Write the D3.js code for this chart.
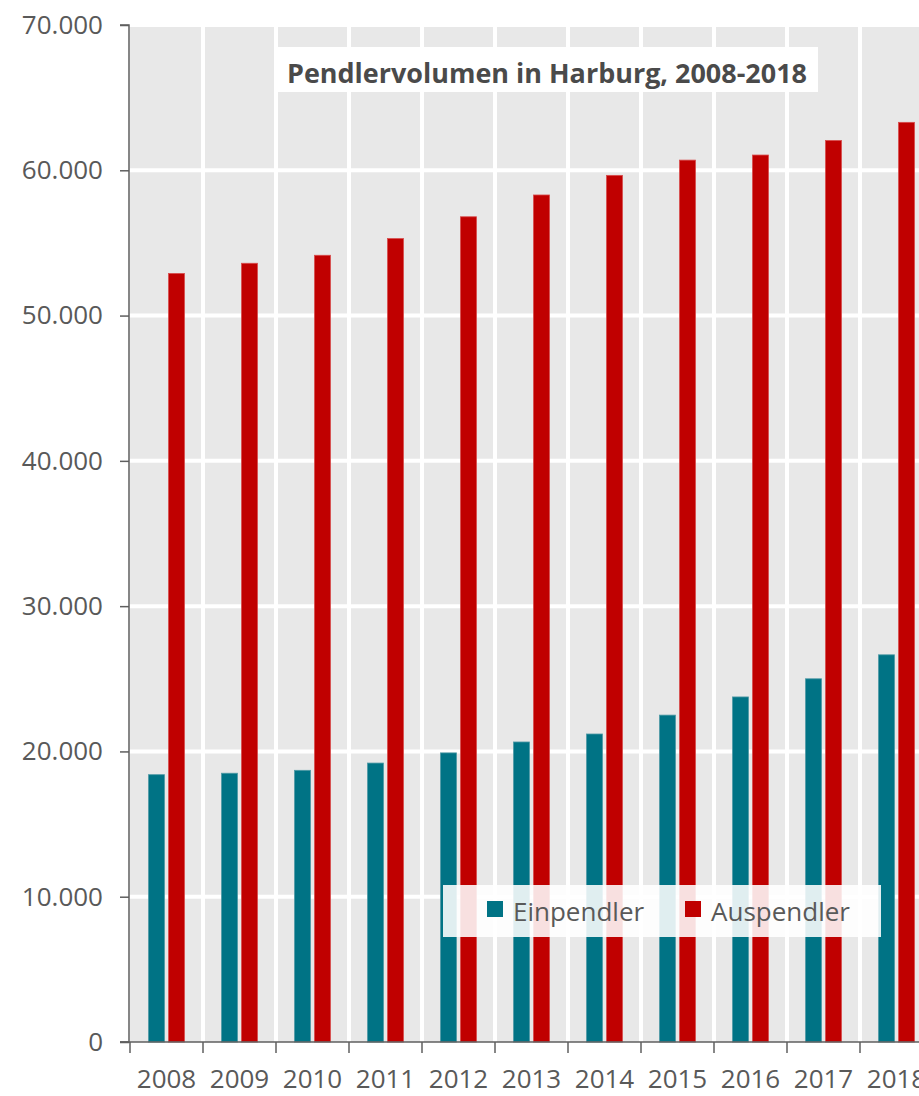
<!DOCTYPE html>
<html><head><meta charset="utf-8">
<script src="https://cdn.jsdelivr.net/npm/d3@7"></script>
<style>body{margin:0;background:#fff;overflow:hidden}svg{display:block}</style>
</head><body>
<script>
const years = ["2008","2009","2010","2011","2012","2013","2014","2015","2016","2017","2018"];
const einpendler = [18400,18500,18700,19200,19900,20650,21200,22500,23750,25000,26650];
const auspendler = [52900,53600,54150,55300,56800,58300,59650,60700,61050,62050,63300];
const seriesNames = ["Einpendler","Auspendler"];
const seriesColors = ["#007385","#c00000"];
const yTicks = [0,10000,20000,30000,40000,50000,60000,70000];
const title = "Pendlervolumen in Harburg, 2008-2018";

const W = 919, H = 1096;
const pL = 130, pT = 25, pB = 1042, pR = 933;
const font = "'Open Sans', 'Noto Sans', sans-serif";
const svg = d3.select("body").append("svg").attr("width", W).attr("height", H);

const x = d3.scaleBand().domain(years).range([pL, pR]);
const y = d3.scaleLinear().domain([0, 70000]).range([pB, pT]);
const fmt = v => d3.format(",")(v).replace(/,/g, ".");

// background
svg.append("rect").attr("x", pL).attr("y", pT).attr("width", pR - pL).attr("height", pB - pT).attr("fill", "#e8e8e8");
// grid
svg.append("g").selectAll("line").data(yTicks.slice(1)).join("line")
  .attr("x1", pL).attr("x2", pR).attr("y1", d => y(d)).attr("y2", d => y(d))
  .attr("stroke", "#fff").attr("stroke-width", 4);
svg.append("g").selectAll("line").data(years.slice(1)).join("line")
  .attr("x1", d => x(d)).attr("x2", d => x(d)).attr("y1", pT).attr("y2", pB)
  .attr("stroke", "#fff").attr("stroke-width", 4);

// bars
const bw = 16, gap = 4;
const data = years.map((yr, i) => ({yr, vals: [einpendler[i], auspendler[i]]}));
const g = svg.append("g");
data.forEach(d => {
  const cx = x(d.yr) + x.bandwidth() / 2;
  d.vals.forEach((v, s) => {
    const bx = s === 0 ? cx - gap / 2 - bw : cx + gap / 2;
    g.append("rect").attr("x", bx).attr("y", y(v)).attr("width", bw).attr("height", pB - y(v))
      .attr("fill", seriesColors[s]).attr("stroke", s === 0 ? "#4f9aa6" : "#d84c4c").attr("stroke-width", 0.8);
  });
});

// axes
const axisColor = "#5f5f5f";
const yAxis = svg.append("g").attr("transform", `translate(${pL - 1},0)`)
  .call(d3.axisLeft(y).tickValues(yTicks).tickFormat(fmt).tickSize(9).tickPadding(17));
const xAxis = svg.append("g").attr("transform", `translate(0,${pB})`)
  .call(d3.axisBottom(x).tickSize(0).tickPadding(28));
[yAxis, xAxis].forEach(a => {
  a.selectAll("path,line").attr("stroke", axisColor).attr("stroke-width", 1.5);
  a.selectAll("text").attr("fill", "#595959").attr("font-family", font).attr("font-size", 26);
});
yAxis.select(".domain").attr("d", `M-9,${pT}H0V${pB}H-9`);
xAxis.select(".domain").attr("d", `M${pL - 10},0H${W + 5}`);
// x tick marks at band boundaries
svg.append("g").selectAll("line").data(years).join("line")
  .attr("x1", d => x(d)).attr("x2", d => x(d)).attr("y1", pB).attr("y2", pB + 11)
  .attr("stroke", axisColor).attr("stroke-width", 1.5);

// title
const tg = svg.append("g");
tg.append("rect").attr("x", 278).attr("y", 47).attr("width", 540).attr("height", 45).attr("fill", "#fff");
tg.append("text").attr("x", 547).attr("y", 83).attr("text-anchor", "middle")
  .attr("font-family", font).attr("font-weight", "bold").attr("font-size", 26.5).attr("fill", "#4a4a4a")
  .attr("textLength", 520).attr("lengthAdjust", "spacingAndGlyphs").text(title);

// legend
const lg = svg.append("g");
lg.append("rect").attr("x", 443).attr("y", 885).attr("width", 438).attr("height", 52).attr("fill", "#fff").attr("fill-opacity", 0.88);
const lx = [487, 685];
seriesNames.forEach((n, i) => {
  lg.append("rect").attr("x", lx[i]).attr("y", 901).attr("width", 16).attr("height", 16).attr("fill", seriesColors[i]);
  lg.append("text").attr("x", lx[i] + 26).attr("y", 921).attr("font-family", font).attr("font-size", 26)
    .attr("fill", "#595959").text(n);
});
</script>
</body></html>
